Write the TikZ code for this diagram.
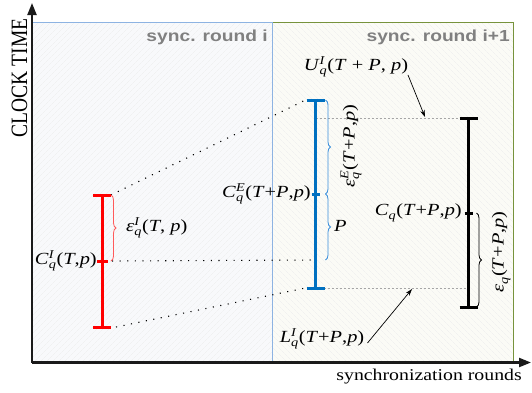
\documentclass[tikz,border=0pt]{standalone}
\usepackage{amsmath}
\usepackage{fontspec}
\setmainfont{Liberation Serif}
\setsansfont{Liberation Sans}
\usetikzlibrary{arrows.meta,decorations.pathreplacing,patterns.meta}
\newcommand\vi[1]{\textit{#1}}
\newcommand\lbsym[3]{\vi{#1}$_{\vi{#2}}^{\vi{#3}}$}
\definecolor{barred}{HTML}{FF0000}
\definecolor{bracered}{HTML}{FF5A5A}
\definecolor{barblue}{HTML}{0070C0}
\definecolor{braceblue}{HTML}{3A8EDC}
\definecolor{boxblue}{HTML}{8DB3E2}
\definecolor{boxgreen}{HTML}{77933C}
\definecolor{filla}{HTML}{F8F9FB}
\definecolor{fillb}{HTML}{FBFBF6}
\definecolor{roundgray}{HTML}{808080}
\definecolor{axisblack}{HTML}{1A1A1A}
\begin{document}
\begin{tikzpicture}[x=1pt,y=-1pt,
  lbl/.style={inner sep=0pt, xscale=1.2, font=\fontsize{17}{19}\selectfont},
  lblrot/.style={inner sep=0pt, yscale=1.2, rotate=90, font=\fontsize{17}{19}\selectfont},
  roundlbl/.style={inner sep=0pt, xscale=1.2, text=roundgray, font=\sffamily\bfseries\fontsize{16}{19}\selectfont},
  axislbl/.style={inner sep=0pt, xscale=1.2, font=\fontsize{16.5}{19}\selectfont},
  axis/.style={draw=axisblack, line width=2.2pt, -{Triangle[length=12pt,width=9pt]}},
  bar/.style={line width=3pt},
  brc/.style={decorate, decoration={brace, amplitude=5pt}, line width=0.8pt},
  dotl/.style={line width=1.1pt, dash pattern=on 1.1pt off 6.5pt},
  dashl/.style={draw=gray!70, line width=0.6pt, dash pattern=on 2.5pt off 1.5pt},
  ptr/.style={line width=0.7pt, -{Stealth[length=7pt,width=4.5pt]}}
]
\useasboundingbox (0,0) rectangle (532,392);
% boxes
\fill[filla] (32,22) rectangle (272.5,362);
\fill[pattern={Lines[angle=45,distance=4pt,line width=0.35pt]}, pattern color=gray!14] (32,22) rectangle (272.5,362);
\fill[fillb] (272.5,22) rectangle (513,362);
\fill[pattern={Lines[angle=-45,distance=4pt,line width=0.35pt]}, pattern color=gray!14] (272.5,22) rectangle (513,362);
\draw[boxgreen, line width=1pt] (272.5,22) rectangle (513,362);
\draw[boxblue, line width=1pt] (32,22) rectangle (272.5,362);
\node[roundlbl, anchor=base east] (ri) at (268,41) {sync. round i};
\node[roundlbl, anchor=base east] (rj) at (510,41) {sync. round i+1};
% axes
\coordinate (o) at (32,362.5);
\coordinate (ytip) at (32,3);
\coordinate (xtip) at (531,362.5);
\draw[axis] (o) -- (ytip);
\draw[axis] (o) -- (xtip);
\node[axislbl, rotate=90, font=\fontsize{19.5}{22}\selectfont] (ylab) at (19.5,78) {CLOCK TIME};
\node[axislbl, anchor=base east] (xlab) at (522,380) {synchronization rounds};
% bar coordinates
\coordinate (rt) at (102,195); \coordinate (rm) at (102,261); \coordinate (rb) at (102,327);
\coordinate (bt) at (315.5,100); \coordinate (bm) at (315.5,194); \coordinate (bp) at (315.5,260); \coordinate (bb) at (315.5,288);
\coordinate (kt) at (468.5,118); \coordinate (km) at (468.5,213); \coordinate (kb) at (468.5,307);
% dotted links
\draw[dotl] ([xshift=9pt]rt) -- ([xshift=-10pt]bt);
\draw[dotl] ([xshift=10pt]rm) -- (bp);
\draw[dotl] ([xshift=14pt]rb) -- ([xshift=-10pt]bb);
% dashed links
\draw[dashl] (bt |- kt) -- (kt);
\draw[dashl] (bb) -- (kb |- bb);
% red bar
\draw[barred, bar] (rt) -- (rb);
\draw[barred, bar] ([xshift=-9pt]rt) -- ([xshift=9pt]rt);
\draw[barred, bar] ([xshift=-9pt]rb) -- ([xshift=9pt]rb);
\draw[barred, bar] ([xshift=-5pt]rm) -- ([xshift=6pt]rm);
% blue bar
\draw[barblue, bar] (bt) -- (bb);
\draw[barblue, bar] ([xshift=-9pt]bt) -- ([xshift=9pt]bt);
\draw[barblue, bar] ([xshift=-9pt]bb) -- ([xshift=9pt]bb);
\draw[barblue, bar] ([xshift=-4pt]bm) -- ([xshift=4pt]bm);
% black bar
\draw[black, bar] (kt) -- (kb);
\draw[black, bar] ([xshift=-9pt]kt) -- ([xshift=9pt]kt);
\draw[black, bar] ([xshift=-9pt]kb) -- ([xshift=9pt]kb);
\draw[black, bar] ([xshift=-4pt]km) -- ([xshift=4pt]km);
% braces
\draw[bracered, brc] ([xshift=9pt]rt) -- ([xshift=9pt]rm);
\draw[braceblue, brc] ([xshift=10pt]bt) -- ([xshift=10pt]bm);
\draw[braceblue, brc] ([xshift=10pt]bm) -- ([xshift=10pt]bp);
\draw[black, brc] ([xshift=8pt]km) -- ([xshift=8pt]kb);
% labels
\node[lbl, anchor=west] (epsI) at (126,228) {\lbsym{ε}{q}{I}(\vi{T}, \vi{p})};
\node[lbl, anchor=east] (CI) at (97,261) {\lbsym{C}{q}{I}(\vi{T},\vi{p})};
\node[lbl, anchor=east] (CE) at (311,194) {\lbsym{C}{q}{E}(\vi{T}+\vi{P},\vi{p})};
\node[lblrot] (epsE) at (351,146) {\lbsym{ε}{q}{E}(\vi{T}+\vi{P},\vi{p})};
\node[lbl, anchor=west] (P) at (334,226) {\vi{P}};
\node[lbl, anchor=east] (Cq) at (462,213) {\lbsym{C}{q}{}(\vi{T}+\vi{P},\vi{p})};
\node[lblrot] (epsq) at (501,252) {\lbsym{ε}{q}{}(\vi{T}+\vi{P},\vi{p})};
\node[lbl] (U) at (356,67) {\lbsym{U}{q}{I}(\vi{T} + \vi{P}, \vi{p})};
\node[lbl] (L) at (322,339) {\lbsym{L}{q}{I}(\vi{T}+\vi{P},\vi{p})};
% pointers
\coordinate (ua) at (425,117);
\coordinate (la) at (412,289);
\draw[ptr] (408,75) -- (ua);
\draw[ptr] (L.east) ++(3pt,-4pt) coordinate (ls) (ls) -- (la);
\end{tikzpicture}
\end{document}
